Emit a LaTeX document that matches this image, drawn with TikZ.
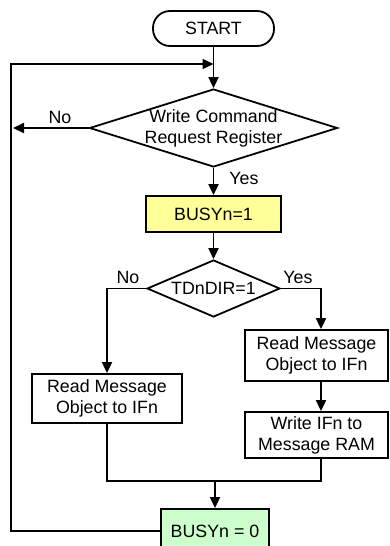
\documentclass[tikz,border=0pt]{standalone}
\usepackage{fontspec}
\setmainfont{Liberation Sans}
\usepackage{xcolor}
\definecolor{busyYellow}{RGB}{255, 255, 153}
\definecolor{busyGreen}{RGB}{204, 255, 204}
\usetikzlibrary{shapes.geometric,arrows.meta}

\begin{document}
\begin{tikzpicture}[x=1pt, y=-1pt,
  font=\fontsize{17.8}{21}\selectfont,
  line width=1.8pt,
  box/.style={draw, fill=white, align=center, inner sep=2pt},
  term/.style={box, rounded corners=17pt, minimum width=121pt, minimum height=35pt},
  dec/.style={box, diamond, aspect=3.18, inner sep=-2pt},
  arr/.style={-{Triangle[length=11pt,width=10pt]}},
  lab/.style={inner sep=1pt}
]
\clip (0,0) rectangle (389,546);

%% main column
\node[term] (start) at (213.5,28.5) {START};
\node[dec, minimum width=248pt, minimum height=78pt] (wcr) at (213.5,128) {Write Command\\Request Register};
\node[box, fill=busyYellow, minimum width=135pt, minimum height=36pt] (busy1) at (213.5,214) {BUSYn=1};
\node[dec, minimum width=133pt, minimum height=57pt] (tdir) at (213.5,288.5) {TDnDIR=1};

%% branches
\node[box, minimum width=150pt, minimum height=49pt] (rdl) at (107,398.5) {Read Message\\Object to IFn};
\node[box, minimum width=143pt, minimum height=51pt] (rdr) at (316.5,355.5) {Read Message\\Object to IFn};
\node[box, minimum width=143pt, minimum height=46pt] (wrr) at (316.5,435) {Write IFn to\\Message RAM};
\node[box, fill=busyGreen, minimum width=108pt, minimum height=44pt] (busy0) at (215,531) {BUSYn = 0};

%% labels
\node[lab] (no1)  at (60,117)  {No};
\node[lab] (yes1) at (244,178) {Yes};
\node[lab] (no2)  at (128,277) {No};
\node[lab] (yes2) at (298,277) {Yes};

\coordinate (join)  at (213.5,64);
\coordinate (back)  at (11,64);
\coordinate (noend) at (13,128);
\coordinate (merge) at (215,481);

\draw[arr] (start.south) -- (wcr.north);
\draw[arr] (wcr.west) -- (noend);
\draw[arr] (wcr.south) -- (busy1.north);
\draw[arr] (busy1.south) -- (tdir.north);
\draw[arr] (tdir.west) -| (rdl.north);
\draw[arr] (tdir.east) -| ([xshift=4.5pt]rdr.north);
\draw[arr] ([xshift=4.5pt]rdr.south) -- ([xshift=4.5pt]wrr.north);
\draw (rdl.south) |- (merge);
\draw ([xshift=4.5pt]wrr.south) |- (merge);
\draw[arr] (merge) -- (busy0.north);
\draw[arr] (busy0.west) -| (back) -- (join);
\end{tikzpicture}
\end{document}
